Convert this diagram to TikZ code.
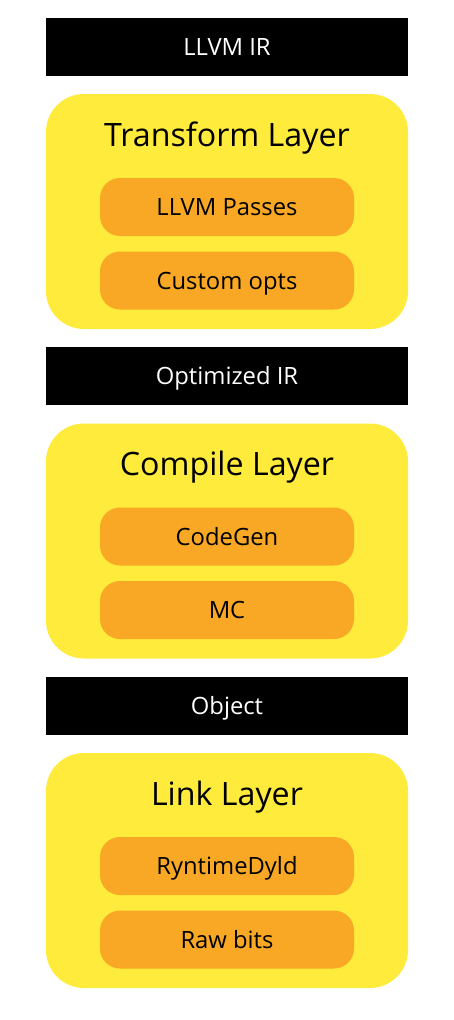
\documentclass[tikz,border=0pt]{standalone}
\usepackage{fontspec}
\setmainfont{Open Sans}
\definecolor{layerY}{HTML}{FFEB3B}
\definecolor{itemO}{HTML}{F9A825}
\begin{document}
\begin{tikzpicture}[x=1pt,y=-1pt,
  bar/.style={fill=black, text=white, minimum width=362pt, minimum height=58pt, inner sep=0pt,
    font=\fontsize{23.8}{28}\selectfont, text height=17pt, text depth=0pt},
  layer/.style={fill=layerY, rounded corners=38pt, minimum width=362pt, minimum height=235pt, inner sep=0pt},
  item/.style={fill=itemO, rounded corners=20pt, minimum width=254pt, minimum height=58pt, inner sep=0pt,
    font=\fontsize{23.8}{28}\selectfont, text height=17pt, text depth=0pt},
  ttl/.style={anchor=base, inner sep=0pt, font=\fontsize{32.2}{38}\selectfont}]
\useasboundingbox (0,0) rectangle (454,1020);
% section 1
\node[bar] (b1) at (227,46.5) {LLVM IR};
\node[layer] (l1) at (227,211.5) {};
\node[ttl] (t1) at (227,146) {Transform Layer};
\node[item] (i1a) at (227,207) {LLVM Passes};
\node[item] (i1b) at (227,280.5) {Custom opts};
% section 2
\node[bar] (b2) at (227,376) {Optimized IR};
\node[layer] (l2) at (227,541) {};
\node[ttl] (t2) at (227,475.5) {Compile Layer};
\node[item] (i2a) at (227,536.5) {CodeGen};
\node[item] (i2b) at (227,610) {MC};
% section 3
\node[bar] (b3) at (227,705.5) {Object};
\node[layer] (l3) at (227,870.5) {};
\node[ttl] (t3) at (227,805) {Link Layer};
\node[item] (i3a) at (227,866) {RyntimeDyld};
\node[item] (i3b) at (227,939.5) {Raw bits};
\end{tikzpicture}
\end{document}
